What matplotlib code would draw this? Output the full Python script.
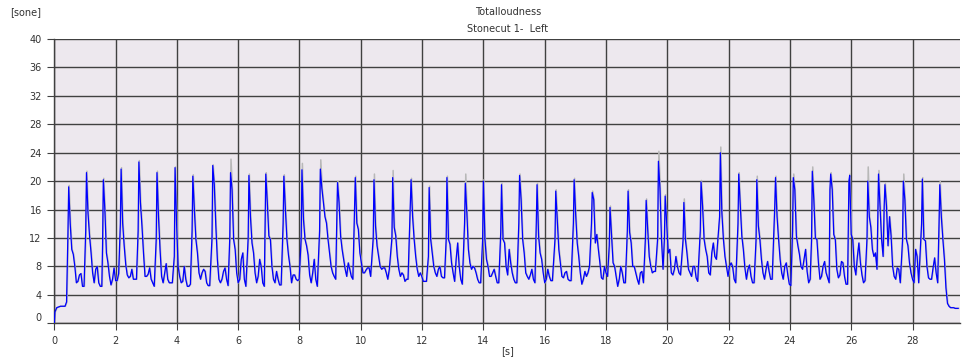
import numpy as np
import matplotlib
matplotlib.use("Agg")
import matplotlib.pyplot as plt
from matplotlib import transforms

# sample spacing of the values after each peak [s]
dt = 0.05

# quiet lead-in before the first hit
lead_t = [0.0, 0.02, 0.08, 0.20, 0.35, 0.40]
lead_v = [0.0, 1.6, 2.2, 2.4, 2.4, 3.0]

# time of each loudness peak [s]
beat_t = [0.47, 1.05, 1.60, 2.18, 2.76, 3.35, 3.94, 4.52, 5.17, 5.75,
          6.35, 6.90, 7.49, 8.08, 8.68, 9.24, 9.82, 10.43, 11.04, 11.64,
          12.23, 12.81, 13.41, 14.00, 14.59, 15.18, 15.75, 16.36, 16.96, 17.55,
          18.13, 18.72, 19.31, 19.71, 19.93, 20.54, 21.10, 21.73, 22.33, 22.92,
          23.53, 24.11, 24.73, 25.33, 25.95, 26.54, 26.89, 27.10, 27.70, 28.32,
          28.89]

# level just before the jump up to each peak [sone]
beat_pre = [12.6, 13.0, 11.0, 14.0, 13.0, 11.8, 9.4, 13.0, 12.0, 12.0,
            12.0, 13.0, 14.0, 12.0, 13.0, 14.0, 16.0, 12.0, 12.0, 16.5,
            9.4, 11.8, 14.1, 11.8, 12.8, 14.1, 14.1, 11.8, 14.1, 14.0,
            10.9, 13.0, 12.0, 12.0, 12.0, 11.8, 13.0, 15.0, 14.0, 11.8,
            16.5, 13.0, 11.8, 18.8, 20.0, 12.0, 14.1, 16.5, 11.8, 14.0,
            14.1]

# loudness from each peak on, every dt seconds [sone]
beat_vals = [
    [19.2, 14.0, 10.4, 9.7, 8.0, 5.7, 5.9, 6.8, 7.0, 5.2, 5.2],
    [21.2, 15.5, 12.3, 9.9, 7.1, 5.7, 7.6, 8.0, 5.7, 5.2, 5.2],
    [20.2, 16.0, 9.9, 8.5, 6.6, 5.4, 6.2, 7.8, 6.0, 6.0, 7.0],
    [21.7, 14.1, 10.9, 8.3, 6.8, 6.4, 6.6, 7.6, 6.2, 6.2, 6.2],
    [22.7, 17.0, 13.7, 9.9, 6.6, 6.6, 6.9, 7.8, 6.2, 5.7, 5.2],
    [21.2, 15.0, 10.4, 6.6, 5.7, 7.1, 8.4, 6.2, 5.7, 5.7, 5.7],
    [21.9, 14.1, 8.0, 6.6, 5.7, 5.9, 8.0, 6.2, 5.2, 5.2, 5.5],
    [20.7, 16.0, 11.8, 9.9, 7.1, 6.2, 7.1, 7.6, 7.3, 5.7, 5.3, 5.3],
    [22.2, 19.5, 13.7, 9.0, 6.2, 5.7, 6.2, 7.3, 7.8, 6.2, 5.3],
    [21.2, 18.8, 11.8, 10.4, 7.1, 5.7, 6.2, 9.0, 9.9, 6.2, 5.2],
    [20.8, 15.0, 11.3, 9.9, 7.1, 5.7, 6.6, 9.0, 8.0, 5.7, 5.2],
    [21.0, 17.0, 12.3, 11.8, 8.0, 6.2, 5.7, 7.3, 6.2, 5.4, 5.4],
    [20.7, 16.0, 11.8, 9.6, 8.0, 5.7, 6.8, 6.8, 6.2, 6.0, 6.2],
    [21.6, 14.6, 11.8, 10.9, 9.6, 6.8, 5.7, 7.1, 9.0, 6.2, 5.2],
    [21.7, 19.0, 17.0, 15.0, 14.1, 11.8, 9.9, 8.0, 7.1, 6.6, 6.2],
    [19.8, 17.0, 12.3, 10.4, 9.0, 7.6, 6.6, 8.5, 7.6, 6.6, 6.2],
    [20.5, 14.1, 13.2, 9.9, 8.5, 7.1, 7.1, 7.5, 7.8, 7.8, 6.6],
    [20.2, 13.7, 10.9, 9.4, 8.0, 7.6, 7.8, 7.8, 7.1, 6.2, 7.6],
    [20.5, 13.5, 12.3, 9.4, 7.6, 6.6, 7.1, 6.8, 5.9, 6.2, 6.2],
    [20.2, 15.0, 11.8, 9.4, 7.6, 6.6, 7.1, 6.6, 5.9, 5.9, 5.9],
    [19.1, 11.8, 9.9, 8.0, 7.1, 6.6, 7.6, 8.0, 6.6, 6.4, 6.4],
    [20.5, 11.8, 11.1, 8.5, 7.1, 5.9, 9.0, 11.3, 8.0, 6.2, 5.5],
    [19.7, 15.5, 10.4, 8.5, 7.6, 8.0, 7.8, 7.1, 6.2, 5.7, 5.7],
    [20.0, 11.8, 9.0, 8.0, 6.6, 6.6, 7.1, 7.6, 6.6, 5.7, 5.7],
    [19.5, 11.8, 11.3, 8.0, 6.8, 10.4, 8.5, 7.1, 6.2, 5.7, 5.7],
    [20.8, 17.4, 11.8, 9.9, 7.1, 6.6, 6.2, 6.8, 7.6, 6.2, 5.7],
    [19.5, 12.3, 9.9, 9.0, 7.1, 5.7, 6.2, 7.6, 6.6, 6.0, 6.0],
    [18.6, 14.6, 10.4, 8.5, 6.6, 6.4, 7.1, 7.3, 6.2, 6.0, 6.0],
    [20.2, 15.3, 11.3, 9.4, 7.1, 5.5, 6.2, 7.3, 6.6, 7.1, 8.0],
    [18.4, 17.4, 11.3, 12.5, 10.4, 8.5, 6.4, 6.2, 8.0, 7.1, 6.6],
    [16.3, 12.3, 8.5, 8.0, 6.6, 5.2, 6.2, 8.0, 7.1, 5.7, 5.7],
    [18.6, 12.8, 11.3, 8.0, 8.0, 7.1, 6.2, 5.5, 7.1, 7.3, 5.7],
    [17.3, 13.2, 9.4, 8.0, 7.1, 7.3, 7.3],
    [22.8, 19.0, 11.8, 7.6],
    [17.9, 14.1, 9.9, 10.4, 7.1, 6.8, 7.6, 9.4, 8.0, 7.1, 6.8],
    [17.0, 11.8, 9.9, 7.6, 7.1, 6.6, 8.0, 8.0, 6.4, 5.9],
    [19.9, 16.5, 11.8, 10.4, 9.4, 7.1, 6.8, 9.9, 11.3, 9.4, 9.0],
    [24.0, 15.5, 11.8, 9.4, 8.0, 6.6, 8.0, 8.5, 8.0, 6.2, 5.7],
    [21.0, 16.5, 12.3, 10.4, 7.8, 6.2, 7.6, 8.2, 6.6, 5.7, 5.7],
    [20.2, 13.7, 11.8, 9.0, 7.1, 6.2, 7.6, 8.7, 7.3, 6.2, 6.2],
    [20.5, 15.0, 11.8, 9.0, 7.1, 6.2, 8.0, 8.5, 6.8, 5.5, 5.3],
    [20.5, 18.8, 12.3, 10.9, 9.7, 8.0, 7.6, 9.0, 10.4, 7.3, 5.7, 6.2],
    [21.4, 17.4, 12.0, 11.8, 8.5, 6.2, 6.6, 8.0, 8.7, 7.1, 6.4, 5.7],
    [21.0, 18.8, 12.5, 11.8, 7.6, 6.4, 6.8, 8.7, 8.5, 6.6, 5.5, 5.5],
    [20.8, 12.5, 11.8, 8.0, 6.8, 9.4, 11.3, 8.5, 6.8, 5.7, 6.0],
    [20.0, 15.0, 13.5, 10.4, 9.4, 9.9, 7.6],
    [21.0, 16.5, 11.8, 9.4],
    [19.5, 16.5, 10.9, 15.0, 12.3, 8.0, 6.6, 6.2, 7.8, 7.6, 5.7],
    [20.0, 17.4, 11.8, 10.9, 8.5, 7.1, 6.2, 5.7, 10.4, 9.4, 5.7],
    [20.3, 11.8, 11.6, 8.0, 6.4, 6.2, 6.2, 7.8, 9.2, 7.1, 5.7],
    [19.5, 15.0, 11.8, 9.0, 5.0, 2.8, 2.4, 2.2, 2.2, 2.2, 2.1, 2.1, 2.1],
]

# peak of the grey (second) trace where it shows above the blue one [sone]
gray_peak = [19.4, 21.4, 20.4, 21.9, 22.9, 21.4, 22.0, 20.9, 22.3, 23.1,
             21.0, 21.2, 20.9, 22.5, 23.0, 20.0, 20.7, 21.0, 21.5, 20.4,
             19.3, 20.7, 21.0, 20.2, 19.7, 21.0, 19.7, 18.8, 20.4, 18.6,
             16.5, 18.8, 17.5, 24.2, 18.1, 17.5, 20.1, 24.8, 21.2, 20.7,
             20.7, 21.0, 22.0, 21.2, 21.0, 22.0, 21.5, 19.7, 21.0, 20.5,
             20.0]

yticks = list(range(0, 41, 4))
xticks = list(range(0, 29, 2))


def build(peaks):
    t = list(lead_t)
    v = list(lead_v)
    for tp, pre, row, pk in zip(beat_t, beat_pre, beat_vals, peaks):
        t.append(tp - 0.025)
        v.append(pre)
        t.extend(tp + dt * np.arange(len(row)))
        v.extend([pk] + row[1:])
    return np.array(t), np.array(v)


t_blue, v_blue = build([r[0] for r in beat_vals])
t_gray, v_gray = build(gray_peak)

fig = plt.figure(figsize=(9.71, 3.59), dpi=100)
ax = fig.add_axes([0.0559, 0.0994, 0.9328, 0.792])
ax.set_facecolor('#ede8ee')

ax.plot(t_gray + 0.015, v_gray, color='#b8b8b8', lw=1.1, zorder=2)
ax.plot(t_blue, v_blue, color='#0000ff', lw=0.9, zorder=3)

ax.set_xlim(0, 29.55)
ax.set_ylim(0, 40)
ax.set_xticks(xticks)
ax.set_yticks(yticks)
ax.grid(True, color='#404040', lw=1.0, zorder=1)
ax.set_axisbelow(True)

for s in ['right', 'top']:
    ax.spines[s].set_visible(False)
for s in ['left', 'bottom']:
    ax.spines[s].set_color('#404040')
    ax.spines[s].set_linewidth(1.0)

ax.tick_params(axis='both', direction='out', length=5, width=0.8,
               color='#404040', labelsize=7, labelcolor='#333333')
ax.tick_params(axis='y', pad=4)
ax.tick_params(axis='x', pad=4)

# the "0" label sits a little above the bottom edge
lab0 = ax.get_yticklabels()[0]
lab0.set_transform(lab0.get_transform() + transforms.ScaledTranslation(0, 6 / 100, fig.dpi_scale_trans))

fig.text(0.010, 0.965, '[sone]', fontsize=7, color='#333333', ha='left', va='center')
fig.text(0.523, 0.966, 'Totalloudness', fontsize=7, color='#333333', ha='center', va='center')
fig.text(0.523, 0.918, 'Stonecut 1-  Left', fontsize=7, color='#333333', ha='center', va='center')
fig.text(0.523, 0.022, '[s]', fontsize=7, color='#333333', ha='center', va='center')

fig.savefig('out.png', dpi=100)
